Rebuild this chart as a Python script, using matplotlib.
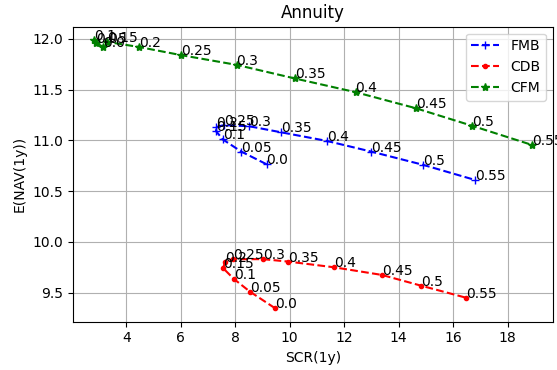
import matplotlib
matplotlib.use("Agg")
import matplotlib.pyplot as plt

labels = ["0.0", "0.05", "0.1", "0.15", "0.2", "0.25", "0.3", "0.35", "0.4", "0.45", "0.5", "0.55"]

fmb_x = [9.15, 8.22, 7.54, 7.30, 7.28, 7.60, 8.50, 9.68, 11.36, 12.99, 14.89, 16.81]
fmb_y = [10.765, 10.89, 11.01, 11.09, 11.13, 11.15, 11.14, 11.08, 10.995, 10.89, 10.76, 10.61]

cdb_x = [9.46, 8.54, 7.95, 7.56, 7.62, 7.93, 9.03, 9.95, 11.63, 13.38, 14.81, 16.48]
cdb_y = [9.347, 9.51, 9.635, 9.74, 9.806, 9.83, 9.83, 9.806, 9.75, 9.675, 9.57, 9.45]

cfm_x = [3.15, 2.90, 2.80, 3.30, 4.47, 6.01, 8.05, 10.19, 12.42, 14.63, 16.71, 18.89]
cfm_y = [11.92, 11.96, 11.99, 11.97, 11.92, 11.84, 11.744, 11.61, 11.475, 11.317, 11.143, 10.956]

fig = plt.figure(figsize=(5.57, 3.70), dpi=100)
ax = fig.add_axes([72.7 / 557, 48.3 / 370, (553 - 72.7) / 557, (321.7 - 26.7) / 370])

ax.plot(fmb_x, fmb_y, 'b--+', label='FMB')
ax.plot(cdb_x, cdb_y, 'r--.', label='CDB')
ax.plot(cfm_x, cfm_y, 'g--*', label='CFM')

for xs, ys in [(fmb_x, fmb_y), (cdb_x, cdb_y), (cfm_x, cfm_y)]:
    for lab, x, y in zip(labels, xs, ys):
        ax.annotate(lab, (x, y))

ax.set_xlim(2.03, 19.67)
ax.set_ylim(9.214, 12.12)
ax.set_title('Annuity')
ax.set_xlabel('SCR(1y)')
ax.set_ylabel('E(NAV(1y))')
ax.grid(True)
ax.legend(loc='upper right')

fig.savefig('out.png', dpi=100)
